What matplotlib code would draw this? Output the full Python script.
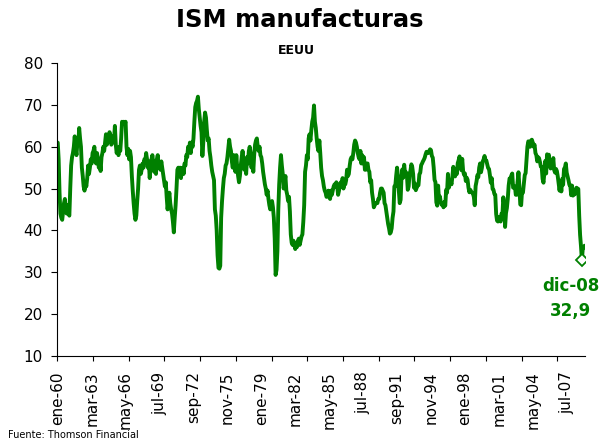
import matplotlib
matplotlib.use("Agg")
import matplotlib.pyplot as plt
from matplotlib.ticker import FixedLocator, NullFormatter, FixedFormatter
import numpy as np

# Monthly ISM manufacturing index, Jan 1960 - Mar 2009
ism_1960s = [
    61.0, 57.0, 49.0, 44.0, 43.0, 42.5, 44.5, 46.5, 47.5, 45.0, 44.0, 46.0,
    44.0, 43.5, 50.0, 55.5, 57.5, 58.5, 60.0, 62.5, 59.5, 58.0, 61.0, 60.5,
    64.5, 62.0, 60.0, 55.0, 53.0, 50.5, 49.5, 51.5, 50.5, 52.5, 55.5, 53.5,
    55.0, 57.0, 56.0, 58.5, 59.0, 60.0, 57.5, 56.0, 58.5, 57.0, 55.0, 56.5,
    54.2, 57.5, 58.5, 60.0, 59.0, 61.0, 63.0, 60.5, 61.5, 62.0, 63.5, 62.0,
    60.5, 61.0, 62.5, 61.5, 65.0, 60.5, 58.5, 59.5, 58.0, 60.0, 59.0, 62.0,
    66.0, 65.5, 66.0, 65.5, 66.0, 60.0, 58.0, 59.5, 57.0, 59.0, 57.5, 53.0,
    49.5, 46.5, 44.0, 42.5, 43.5, 47.0, 50.0, 54.5, 55.5, 53.5, 54.5, 56.0,
    55.0, 57.0, 56.5, 58.5, 57.0, 55.0, 56.5, 52.5, 55.5, 57.0, 58.0, 56.0,
    54.0, 56.5, 53.5, 57.0, 58.0, 55.0, 56.0, 54.5, 56.5, 55.0, 53.5, 52.0,
]
ism_1970s = [
    50.5, 51.5, 48.0, 45.0, 47.0, 49.0, 46.5, 45.0, 44.0, 42.0, 39.5, 43.0,
    46.0, 50.0, 54.5, 55.0, 53.0, 55.0, 52.5, 54.5, 55.0, 53.5, 56.0, 55.5,
    58.0, 57.5, 60.0, 59.0, 61.0, 58.5, 61.0, 60.0, 62.0, 66.0, 69.5, 70.5,
    71.0, 72.0, 69.0, 67.0, 65.0, 63.5, 57.8, 61.0, 66.0, 68.2, 67.0, 64.0,
    61.5, 62.0, 59.0, 57.5, 55.5, 54.0, 53.0, 52.0, 45.0, 43.5, 40.0, 34.0,
    31.0, 30.8, 31.5, 43.0, 47.0, 50.0, 52.5, 53.5, 55.5, 56.0, 57.5, 59.5,
    61.7, 60.0, 59.0, 56.5, 55.0, 58.0, 55.5, 54.0, 58.0, 55.0, 53.0, 51.5,
    53.0, 55.5, 57.5, 59.0, 57.0, 54.5, 56.0, 53.5, 57.5, 56.0, 59.0, 60.0,
    58.5, 55.0, 57.5, 54.0, 58.0, 60.5, 61.5, 62.0, 60.0, 59.0, 60.0, 58.0,
    57.5, 56.0, 54.0, 52.5, 51.0, 50.0, 48.5, 49.5, 47.5, 46.0, 45.0, 46.5,
]
ism_1980s = [
    47.0, 45.5, 43.0, 38.0, 29.3, 30.5, 35.0, 45.0, 51.0, 55.0, 58.0, 55.5,
    53.5, 50.0, 51.5, 53.0, 49.5, 48.5, 47.0, 48.0, 44.5, 39.0, 37.0, 36.5,
    37.5, 36.5, 35.5, 37.0, 36.0, 37.5, 38.0, 36.5, 37.5, 38.5, 39.0, 42.0,
    46.0, 54.0, 55.5, 58.0, 57.0, 62.0, 63.0, 61.5, 64.0, 66.0, 67.0, 69.9,
    66.0, 64.5, 62.0, 60.0, 59.0, 61.5, 58.5, 55.0, 53.0, 52.0, 50.5, 49.5,
    49.0, 48.0, 48.5, 49.5, 48.0, 47.5, 49.5, 48.5, 49.5, 50.5, 51.0, 50.5,
    51.5, 50.5, 48.5, 49.5, 51.0, 51.5, 50.5, 52.5, 50.0, 51.5, 51.0, 52.0,
    54.5, 53.0, 53.5, 55.5, 57.0, 57.5, 57.0, 58.5, 60.5, 61.5, 61.0, 60.0,
    58.5, 57.5, 57.0, 59.0, 56.0, 58.0, 56.0, 57.5, 54.5, 54.5, 56.0, 56.0,
    54.5, 54.0, 51.5, 52.0, 49.0, 47.5, 45.5, 46.0, 46.5, 46.5, 46.5, 47.5,
]
ism_1990s = [
    47.5, 49.0, 50.0, 50.0, 49.5, 49.0, 46.5, 46.0, 44.5, 43.0, 41.5, 40.5,
    39.2, 39.5, 40.5, 43.0, 44.5, 50.5, 50.5, 53.0, 55.0, 53.0, 49.5, 46.5,
    47.3, 52.7, 54.6, 52.6, 55.7, 53.6, 53.9, 53.4, 49.7, 50.5, 53.6, 54.2,
    55.8, 55.2, 53.5, 50.2, 51.2, 49.6, 50.2, 50.7, 50.8, 53.4, 53.8, 55.6,
    56.0, 56.5, 56.9, 57.4, 58.2, 58.8, 58.5, 58.5, 59.0, 59.4, 59.2, 57.8,
    57.4, 55.1, 52.1, 51.5, 46.7, 45.9, 50.7, 47.1, 48.1, 46.7, 46.1, 46.2,
    45.5, 46.8, 45.9, 49.7, 49.0, 53.5, 50.2, 51.7, 51.7, 51.0, 52.9, 55.2,
    53.8, 52.9, 54.3, 53.5, 56.1, 56.8, 57.7, 56.3, 54.4, 57.1, 54.2, 53.3,
    53.6, 51.8, 52.6, 52.1, 50.2, 49.1, 49.7, 49.3, 49.0, 48.8, 48.0, 46.0,
    50.6, 51.7, 53.2, 52.7, 55.0, 56.0, 53.9, 54.9, 56.5, 57.0, 57.8, 56.8,
]
ism_2000s = [
    56.7, 55.8, 54.9, 54.7, 53.2, 51.4, 52.5, 49.9, 49.7, 48.7, 48.5, 43.9,
    42.3, 42.1, 43.1, 43.2, 42.1, 44.0, 43.6, 47.9, 46.2, 40.8, 44.1, 45.3,
    47.5, 50.7, 52.4, 52.4, 53.1, 53.6, 50.2, 50.3, 50.5, 48.5, 48.5, 51.6,
    53.9, 50.5, 46.2, 46.0, 49.4, 49.0, 51.0, 53.2, 53.7, 57.0, 60.0, 61.3,
    61.0, 60.0, 61.5, 61.7, 61.0, 60.0, 60.5, 58.5, 58.0, 56.5, 57.5, 57.3,
    56.4, 55.3, 55.2, 52.3, 51.4, 53.8, 56.6, 53.6, 58.2, 57.7, 58.1, 55.6,
    54.8, 55.8, 55.3, 57.3, 54.4, 53.8, 54.7, 54.2, 52.9, 51.2, 49.5, 51.4,
    49.3, 52.3, 50.9, 54.7, 55.0, 56.0, 53.8, 52.9, 52.0, 50.9, 50.8, 48.4,
    50.7, 48.3, 49.0, 48.6, 49.6, 50.2, 50.0, 49.9, 43.5, 38.9, 36.2, 32.9,
    35.6, 35.8, 36.3,
]

tick_labels = ["ene-60", "mar-63", "may-66", "jul-69", "sep-72", "nov-75",
               "ene-79", "mar-82", "may-85", "jul-88", "sep-91", "nov-94",
               "ene-98", "mar-01", "may-04", "jul-07"]
y_ticks = [10, 20, 30, 40, 50, 60, 70, 80]
highlight_label = "dic-08"
highlight_text = "32,9"
highlight_index = (2008 - 1960) * 12 + 11

title = "ISM manufacturas"
subtitle = "EEUU"
source = "Fuente: Thomson Financial"

values = ism_1960s + ism_1970s + ism_1980s + ism_1990s + ism_2000s
x = np.arange(len(values))
green = "#008000"

W, H = 612, 441
fig = plt.figure(figsize=(W / 100, H / 100), dpi=100)
left, right, top, bottom = 57.3, 585.0, 63.3, 355.5
ax = fig.add_axes([left / W, 1 - bottom / H, (right - left) / W, (bottom - top) / H])

ax.plot(x, values, color=green, lw=2.8, solid_joinstyle="round",
        solid_capstyle="round", zorder=2)
ax.plot([highlight_index], [values[highlight_index]], ls="none", marker="D",
        ms=6.5, mfc="white", mec=green, mew=1.3, zorder=3)

ax.set_xlim(-0.5, len(values) - 0.5)
ax.set_ylim(10, 80)
ax.set_yticks(y_ticks)

ax.xaxis.set_major_locator(FixedLocator(np.arange(-0.5, len(values), 40)))
ax.xaxis.set_major_formatter(NullFormatter())
ax.xaxis.set_minor_locator(FixedLocator(np.arange(len(tick_labels)) * 38))
ax.xaxis.set_minor_formatter(FixedFormatter(tick_labels))
ax.tick_params(axis="x", which="major", direction="out", length=3.6, width=0.8)
ax.tick_params(axis="x", which="minor", length=0, pad=11.5, labelrotation=90,
               labelsize=11)
ax.tick_params(axis="y", direction="out", length=4.3, width=0.8, pad=6,
               labelsize=11)
for s in ["top", "right"]:
    ax.spines[s].set_visible(False)
for s in ["left", "bottom"]:
    ax.spines[s].set_linewidth(0.8)

ax.annotate(highlight_label, xy=(highlight_index, values[highlight_index]),
            xytext=(-8, -19), textcoords="offset points", ha="center",
            va="center", color=green, fontsize=12, fontweight="bold")
ax.annotate(highlight_text, xy=(highlight_index, values[highlight_index]),
            xytext=(-8, -37), textcoords="offset points", ha="center",
            va="center", color=green, fontsize=12, fontweight="bold")

fig.text(300 / W, 1 - 20 / H, title, ha="center", va="center",
         fontsize=17.5, fontweight="bold")
fig.text(296 / W, 1 - 50 / H, subtitle, ha="center", va="center",
         fontsize=9, fontweight="bold")
fig.text(8 / W, 3 / H, source, ha="left", va="baseline", fontsize=7)

fig.savefig("out.png", dpi=100)
